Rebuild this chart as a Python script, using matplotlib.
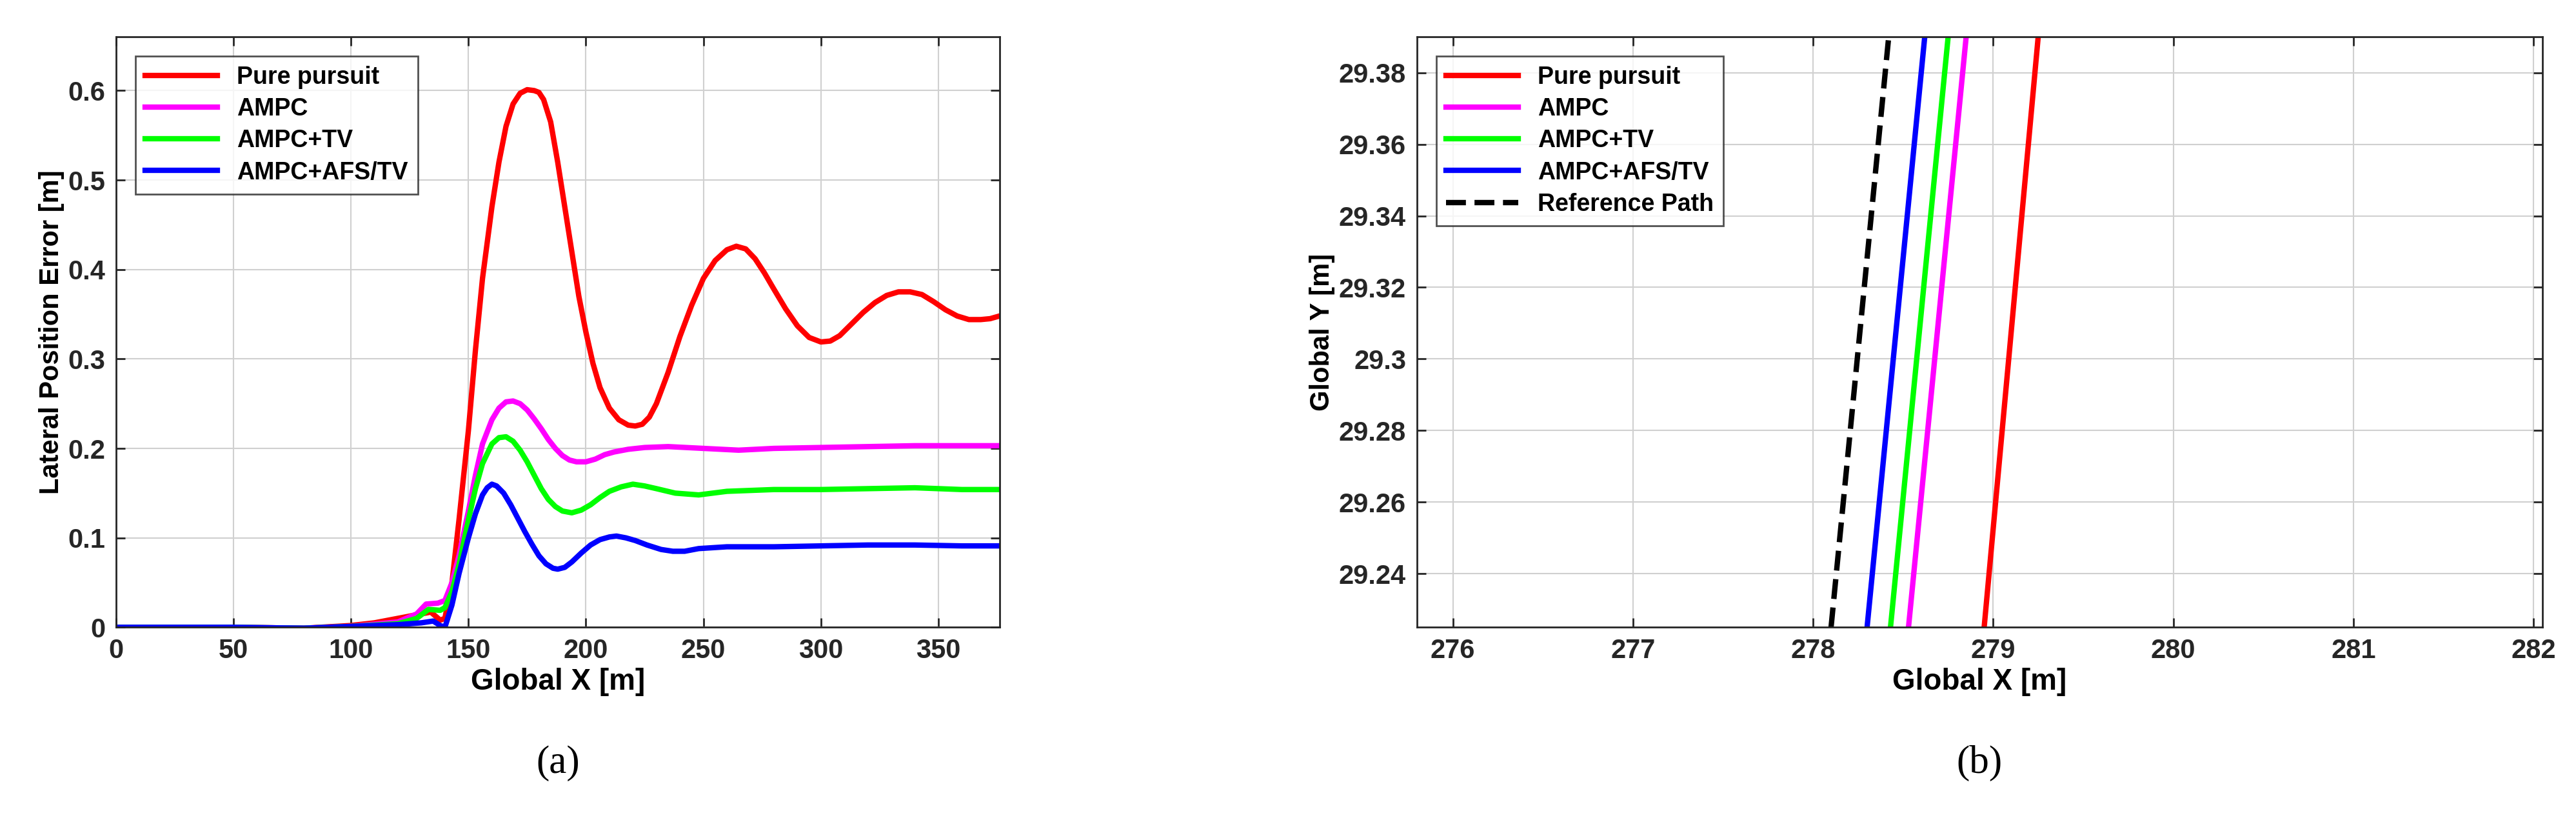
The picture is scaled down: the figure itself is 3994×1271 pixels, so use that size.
import numpy as np
import matplotlib.pyplot as plt

# (a) lateral position error vs global X
x_pp = [0, 50, 80, 100, 110, 120, 130, 134, 138, 140, 143, 146, 150, 153, 156, 160, 163, 166, 169, 172, 175, 178, 180, 182, 185, 188, 191, 194, 197, 200, 203, 206, 210, 214, 218, 221, 224, 227, 230, 235, 240, 245, 250, 255, 260, 264, 268, 272, 276, 280, 285, 290, 295, 300, 304, 308, 313, 318, 323, 328, 333, 338, 343, 348, 353, 358, 363, 368, 372, 376]
y_pp = [0, 0, -0.001, 0.002, 0.005, 0.01, 0.015, 0.017, 0.008, 0.01, 0.05, 0.12, 0.22, 0.31, 0.39, 0.47, 0.52, 0.56, 0.585, 0.597, 0.601, 0.6, 0.598, 0.59, 0.565, 0.52, 0.47, 0.42, 0.37, 0.33, 0.295, 0.268, 0.245, 0.232, 0.226, 0.225, 0.227, 0.235, 0.25, 0.285, 0.325, 0.36, 0.39, 0.41, 0.422, 0.426, 0.423, 0.412, 0.396, 0.378, 0.356, 0.337, 0.324, 0.319, 0.32, 0.326, 0.339, 0.352, 0.363, 0.371, 0.375, 0.375, 0.372, 0.364, 0.355, 0.348, 0.344, 0.344, 0.345, 0.348]
x_ampc = [0, 50, 80, 100, 120, 128, 132, 137, 140, 143, 146, 150, 153, 156, 160, 163, 166, 169, 172, 175, 178, 181, 184, 187, 190, 193, 196, 200, 204, 208, 212, 218, 225, 235, 250, 265, 280, 300, 320, 340, 360, 376]
y_ampc = [0, 0, -0.001, 0.001, 0.006, 0.015, 0.026, 0.027, 0.03, 0.05, 0.08, 0.13, 0.17, 0.205, 0.232, 0.245, 0.252, 0.253, 0.25, 0.243, 0.233, 0.222, 0.21, 0.2, 0.192, 0.187, 0.185, 0.185, 0.188, 0.193, 0.196, 0.199, 0.201, 0.202, 0.2, 0.198, 0.2, 0.201, 0.202, 0.203, 0.203, 0.203]
x_tv = [0, 50, 80, 100, 120, 128, 133, 138, 140, 143, 146, 150, 153, 156, 160, 163, 166, 169, 172, 175, 178, 181, 184, 187, 190, 194, 198, 202, 206, 210, 215, 220, 225, 230, 238, 248, 260, 280, 300, 320, 340, 360, 376]
y_tv = [0, 0, -0.001, 0.001, 0.004, 0.01, 0.02, 0.019, 0.022, 0.04, 0.07, 0.12, 0.155, 0.183, 0.205, 0.212, 0.213, 0.208, 0.198, 0.185, 0.17, 0.155, 0.143, 0.135, 0.13, 0.128, 0.131, 0.137, 0.145, 0.152, 0.157, 0.16, 0.158, 0.155, 0.15, 0.148, 0.152, 0.154, 0.154, 0.155, 0.156, 0.154, 0.154]
x_afs = [0, 50, 80, 100, 120, 130, 135, 138, 140, 143, 146, 150, 153, 156, 158, 160, 162, 165, 168, 171, 174, 177, 180, 183, 186, 188, 191, 194, 198, 202, 206, 210, 213, 217, 221, 226, 232, 237, 242, 248, 260, 280, 300, 320, 340, 360, 376]
y_afs = [0, 0, -0.001, 0.001, 0.003, 0.005, 0.007, 0.002, 0.0, 0.025, 0.06, 0.1, 0.127, 0.148, 0.156, 0.16, 0.158, 0.15, 0.137, 0.122, 0.107, 0.093, 0.08, 0.071, 0.066, 0.065, 0.067, 0.073, 0.083, 0.092, 0.098, 0.101, 0.102, 0.1, 0.097, 0.092, 0.087, 0.085, 0.085, 0.088, 0.09, 0.09, 0.091, 0.092, 0.092, 0.091, 0.091]

# (b) zoomed path
yb = [29.225, 29.39]
xb_pp = [278.95, 279.25]
xb_ampc = [278.53, 278.85]
xb_tv = [278.43, 278.75]
xb_afs = [278.30, 278.62]
xb_ref = [278.10, 278.42]

labels = ["Pure pursuit", "AMPC", "AMPC+TV", "AMPC+AFS/TV"]
colors = ["#ff0000", "#ff00ff", "#00ff00", "#0000ff"]

plt.rcParams['font.family'] = ['Liberation Sans', 'DejaVu Sans']
plt.rcParams['font.weight'] = 'bold'
fs = 30

fig = plt.figure(figsize=(39.94, 12.71), dpi=100)
ax1 = fig.add_axes([0.045, 0.235, 0.343, 0.72])
ax2 = fig.add_axes([0.55, 0.235, 0.437, 0.72])

for xs, ys, lab, c in zip([x_pp, x_ampc, x_tv, x_afs], [y_pp, y_ampc, y_tv, y_afs], labels, colors):
    ax1.plot(xs, ys, color=c, lw=6, label=lab, solid_joinstyle='round')
ax1.set_xlim(0, 376)
ax1.set_ylim(0, 0.66)
ax1.set_xticks(np.arange(0, 351, 50))
ax1.set_yticks([0, 0.1, 0.2, 0.3, 0.4, 0.5, 0.6])
ax1.set_yticklabels(["0", "0.1", "0.2", "0.3", "0.4", "0.5", "0.6"])
ax1.set_xlabel("Global X [m]", fontsize=fs + 3, fontweight='bold')
ax1.set_ylabel("Lateral Position Error [m]", fontsize=fs, fontweight='bold')
ax1.text(0.5, -0.2, "(a)", transform=ax1.transAxes, ha='center', va='top', fontsize=44, family='Liberation Serif', fontweight='normal')

for xs, lab, c in zip([xb_pp, xb_ampc, xb_tv, xb_afs], labels, colors):
    ax2.plot(xs, yb, color=c, lw=6, label=lab)
ax2.plot(xb_ref, yb, color='black', lw=6, ls='--', label="Reference Path")
ax2.set_xlim(275.8, 282.05)
ax2.set_ylim(29.225, 29.39)
ax2.set_xticks(np.arange(276, 283, 1))
ax2.set_yticks([29.24, 29.26, 29.28, 29.3, 29.32, 29.34, 29.36, 29.38])
ax2.set_yticklabels(["29.24", "29.26", "29.28", "29.3", "29.32", "29.34", "29.36", "29.38"])
ax2.set_xlabel("Global X [m]", fontsize=fs + 3, fontweight='bold')
ax2.set_ylabel("Global Y [m]", fontsize=fs, fontweight='bold')
ax2.text(0.5, -0.2, "(b)", transform=ax2.transAxes, ha='center', va='top', fontsize=44, family='Liberation Serif', fontweight='normal')

for ax in (ax1, ax2):
    ax.grid(True, color='#d0d0d0', lw=1.5)
    ax.tick_params(labelsize=fs, direction='in', length=10, width=2, pad=12, top=True, right=True, colors='#262626')
    for s in ax.spines.values():
        s.set_linewidth(2)
        s.set_color('#262626')
    leg = ax.legend(loc='upper left', fontsize=fs - 3, frameon=True, fancybox=False, edgecolor='#262626',
                    handlelength=3, borderaxespad=0.8, labelspacing=0.35)
    leg.get_frame().set_linewidth(2)
    for t in leg.get_texts():
        t.set_fontweight('bold')

fig.savefig("out.png", dpi=100)
